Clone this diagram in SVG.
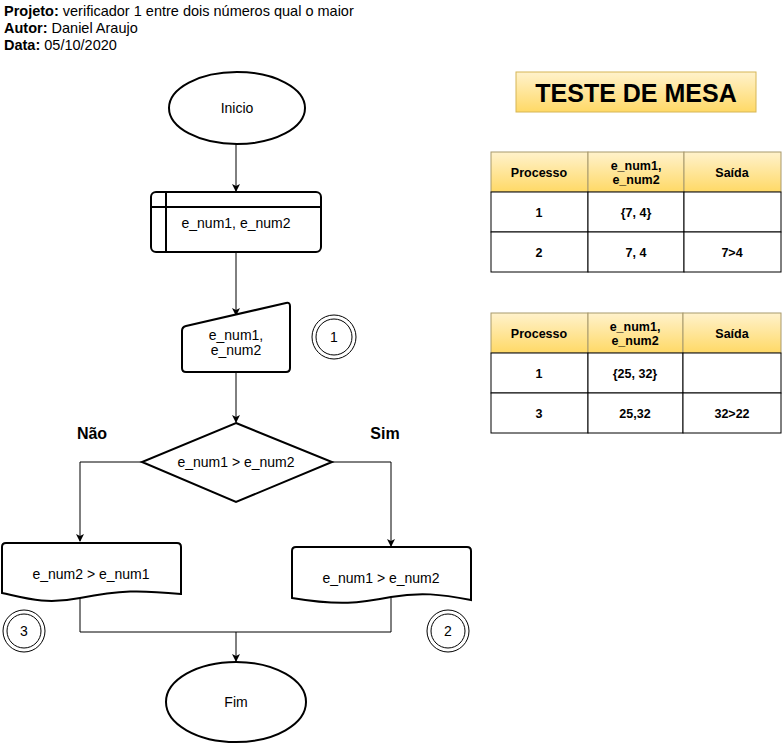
<svg xmlns="http://www.w3.org/2000/svg" width="782" height="743" viewBox="0 0 782 743">
<defs>
<linearGradient id="gy" x1="0" y1="0" x2="0" y2="1"><stop offset="0" stop-color="#fff2cc"/><stop offset="1" stop-color="#ffd966"/></linearGradient>
<marker id="ah" markerWidth="10" markerHeight="10" refX="8" refY="5" orient="auto" markerUnits="userSpaceOnUse"><path d="M1,1 L9,5 L1,9 L3,5 Z" fill="#000"/></marker>
</defs>
<style>
text{font-family:"Liberation Sans",Arial,sans-serif;fill:#000}
.n{font-size:14px;text-anchor:middle}
.s{fill:#fff;stroke:#000;stroke-width:2}
.c{fill:none;stroke:#000;stroke-width:1}
.b{font-weight:bold}
.t{font-size:12.5px;font-weight:bold;text-anchor:middle}
.hd{fill:url(#gy);stroke:#a8996d;stroke-width:1}
.cell{fill:#fff;stroke:#000;stroke-width:1}
</style>
<g id="header" font-size="14.5">
<text x="4" y="16"><tspan class="b">Projeto:</tspan> verificador 1 entre dois números qual o maior</text>
<text x="4" y="33"><tspan class="b">Autor:</tspan> Daniel Araujo</text>
<text x="4" y="50"><tspan class="b">Data:</tspan> 05/10/2020</text>
</g>
<g id="connectors">
<line class="c" x1="236" y1="144" x2="236" y2="191" marker-end="url(#ah)"/>
<line class="c" x1="236" y1="252" x2="236" y2="315" marker-end="url(#ah)"/>
<line class="c" x1="236" y1="372" x2="236" y2="422" marker-end="url(#ah)"/>
<polyline class="c" points="142,462 80,462 80,541" marker-end="url(#ah)"/>
<polyline class="c" points="332,462 391,462 391,546" marker-end="url(#ah)"/>
<polyline class="c" points="80,599 80,632 391,632 391,598"/>
<line class="c" x1="236" y1="632" x2="236" y2="661" stroke="#444" marker-end="url(#ah)"/>
</g>
<g id="inicio">
<ellipse class="s" cx="237" cy="108" rx="68" ry="36"/>
<text class="n" x="237" y="113">Inicio</text>
</g>
<g id="entrada">
<rect class="s" x="151" y="192" width="170" height="60" rx="5"/>
<line class="s" x1="151" y1="207" x2="321" y2="207"/>
<line class="s" x1="166" y1="192" x2="166" y2="252"/>
<text class="n" x="236" y="228">e_num1, e_num2</text>
</g>
<g id="leitura">
<path class="s" d="M182,331 Q182,327 186,326 L286,303 Q290,302 290,306 L290,368 Q290,372 286,372 L186,372 Q182,372 182,368 Z"/>
<text class="n" x="236" y="340">e_num1,</text>
<text class="n" x="236" y="355">e_num2</text>
</g>
<g id="c1">
<circle cx="334" cy="337" r="22" fill="#fff" stroke="#000" stroke-width="1"/>
<circle cx="334" cy="337" r="18" fill="#fff" stroke="#000" stroke-width="1"/>
<text class="n" x="334" y="342">1</text>
</g>
<g id="decisao">
<polygon class="s" points="236,423 332,462 236,502 142,462"/>
<text class="n" x="236" y="467">e_num1 &gt; e_num2</text>
</g>
<text class="b" x="92" y="439" font-size="16" text-anchor="middle">Não</text>
<text class="b" x="385" y="439" font-size="16" text-anchor="middle">Sim</text>
<g id="saida3">
<path class="s" d="M2,547 Q2,543 6,543 L177,543 Q181,543 181,547 L181,594 C140,590 120,590 80,598 C45,605 25,598 2,593 Z"/>
<text class="n" x="91" y="579">e_num2 &gt; e_num1</text>
</g>
<g id="saida2">
<path class="s" d="M292,551 Q292,547 296,547 L467,547 Q471,547 471,551 L471,600 C440,594 420,592 391,597 C360,603 340,606 292,598 Z"/>
<text class="n" x="381" y="583">e_num1 &gt; e_num2</text>
</g>
<g id="c3">
<circle cx="24" cy="631" r="21" fill="#fff" stroke="#000" stroke-width="1"/>
<circle cx="24" cy="631" r="17" fill="#fff" stroke="#000" stroke-width="1"/>
<text class="n" x="24" y="636">3</text>
</g>
<g id="c2">
<circle cx="448" cy="631" r="21" fill="#fff" stroke="#000" stroke-width="1"/>
<circle cx="448" cy="631" r="17" fill="#fff" stroke="#000" stroke-width="1"/>
<text class="n" x="448" y="636">2</text>
</g>
<g id="fim">
<ellipse class="s" cx="236" cy="702" rx="70" ry="40"/>
<text class="n" x="236" y="707">Fim</text>
</g>
<g id="titulo">
<rect x="516" y="72" width="240" height="40" fill="url(#gy)" stroke="#d6b656" stroke-width="1"/>
<text x="636" y="102" font-size="25" font-weight="bold" text-anchor="middle">TESTE DE MESA</text>
</g>
<g id="tabela1">
<rect class="hd" x="491" y="152" width="97" height="40"/>
<rect class="hd" x="588" y="152" width="96" height="40"/>
<rect class="hd" x="684" y="152" width="97" height="40"/>
<rect class="cell" x="491" y="192" width="97" height="40"/>
<rect class="cell" x="588" y="192" width="96" height="40"/>
<rect class="cell" x="684" y="192" width="97" height="40"/>
<rect class="cell" x="491" y="232" width="97" height="40"/>
<rect class="cell" x="588" y="232" width="96" height="40"/>
<rect class="cell" x="684" y="232" width="97" height="40"/>
<text class="t" x="539" y="177">Processo</text>
<text class="t" x="636" y="170">e_num1,</text>
<text class="t" x="636" y="184">e_num2</text>
<text class="t" x="732" y="177">Saída</text>
<text class="t" x="539" y="217">1</text>
<text class="t" x="636" y="217">{7, 4}</text>
<text class="t" x="539" y="257">2</text>
<text class="t" x="636" y="257">7, 4</text>
<text class="t" x="732" y="257">7&gt;4</text>
</g>
<g id="tabela2">
<rect class="hd" x="491" y="313" width="97" height="40"/>
<rect class="hd" x="588" y="313" width="95" height="40"/>
<rect class="hd" x="683" y="313" width="98" height="40"/>
<rect class="cell" x="491" y="353" width="97" height="40"/>
<rect class="cell" x="588" y="353" width="95" height="40"/>
<rect class="cell" x="683" y="353" width="98" height="40"/>
<rect class="cell" x="491" y="393" width="97" height="40"/>
<rect class="cell" x="588" y="393" width="95" height="40"/>
<rect class="cell" x="683" y="393" width="98" height="40"/>
<text class="t" x="539" y="338">Processo</text>
<text class="t" x="635" y="331">e_num1,</text>
<text class="t" x="635" y="345">e_num2</text>
<text class="t" x="732" y="338">Saída</text>
<text class="t" x="539" y="378">1</text>
<text class="t" x="635" y="378">{25, 32}</text>
<text class="t" x="539" y="418">3</text>
<text class="t" x="635" y="418">25,32</text>
<text class="t" x="732" y="418">32&gt;22</text>
</g>
</svg>
